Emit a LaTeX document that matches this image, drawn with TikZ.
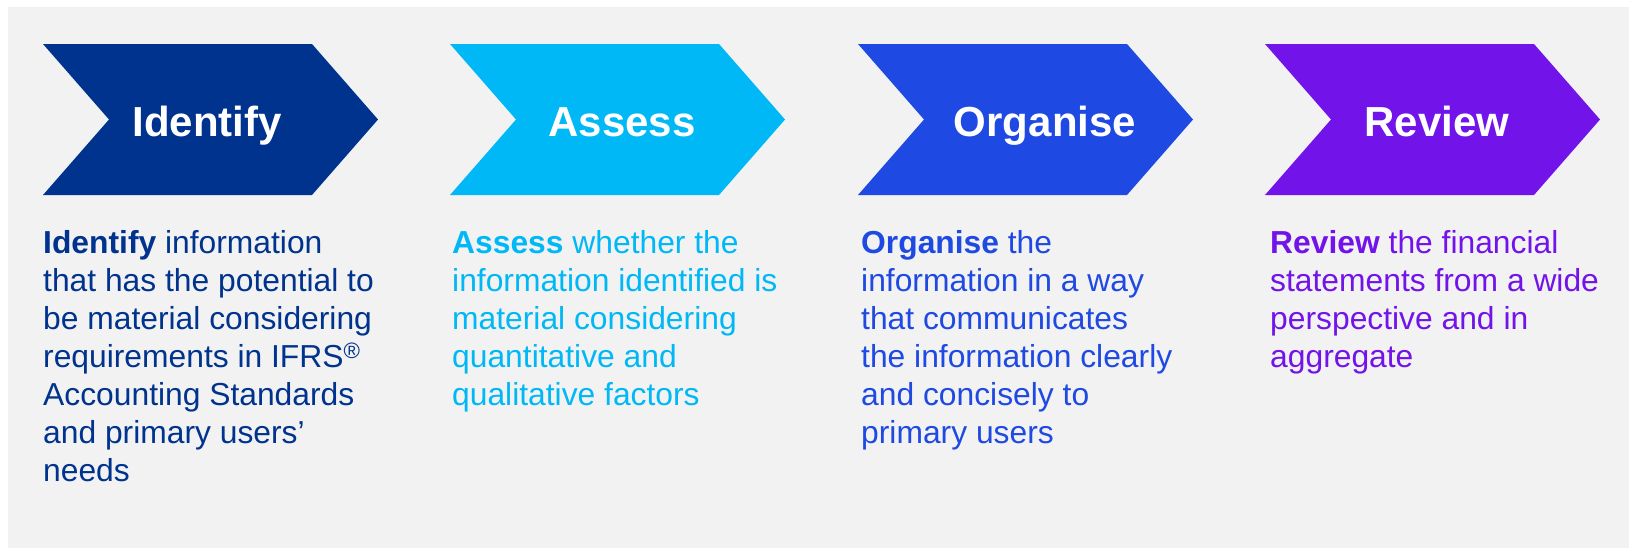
\documentclass[tikz,border=0pt]{standalone}
\usepackage{fontspec}
\setmainfont{Liberation Sans}
\usepackage{tikz}
\definecolor{kpmgblue}{HTML}{00338D}
\definecolor{kpmglight}{HTML}{00B8F5}
\definecolor{kpmgcobalt}{HTML}{1E49E2}
\definecolor{kpmgpurple}{HTML}{7213EA}
\definecolor{panelgray}{HTML}{F2F2F2}
\newcommand{\chevron}[2]{
  \fill[#2] (#1,44) -- ++(269,0) -- ++(66,75.5) -- ++(-66,75.5)
    -- ++(-269,0) -- ++(66,-75.5) -- cycle;% Draw one arrow
}
\tikzset{
  title/.style={anchor=base, text=white, inner sep=0pt,
    font=\bfseries\fontsize{42}{50}\selectfont},
  desc/.style={anchor=north west, align=left, inner sep=0pt,
    font=\fontsize{31.8}{38}\selectfont}
}

\begin{document}
\begin{tikzpicture}[x=1pt,y=-1pt]
  \useasboundingbox (0,0) rectangle (1629,549);
  \fill[panelgray] (8,7) rectangle (1629,548);

  \foreach \x/\cx/\col/\name/\word in {43/207/kpmgblue/identify/Identify,
      450/622/kpmglight/assess/Assess, 858/1045/kpmgcobalt/organise/Organise,
      1265/1437/kpmgpurple/review/Review}{
    \chevron{\x}{\col}
    \node[title] (\name) at (\cx,136) {\word};
  }

  \node[desc, text=kpmgblue] (identifytext) at (43,230)
    {\textbf{Identify} information\\that has the potential to\\be material considering\\
     requirements in IFRS\textsuperscript{®}\\Accounting Standards\\and primary users’\\needs};
  \node[desc, text=kpmglight] (assesstext) at (452,230)
    {\textbf{Assess} whether the\\information identified is\\material considering\\
     quantitative and\\qualitative factors};
  \node[desc, text=kpmgcobalt] (organisetext) at (861,230)
    {\textbf{Organise} the\\information in a way\\that communicates\\
     the information clearly\\and concisely to\\primary users};
  \node[desc, text=kpmgpurple] (reviewtext) at (1270,230)
    {\textbf{Review} the financial\\statements from a wide\\perspective and in\\aggregate};
\end{tikzpicture}
\end{document}
